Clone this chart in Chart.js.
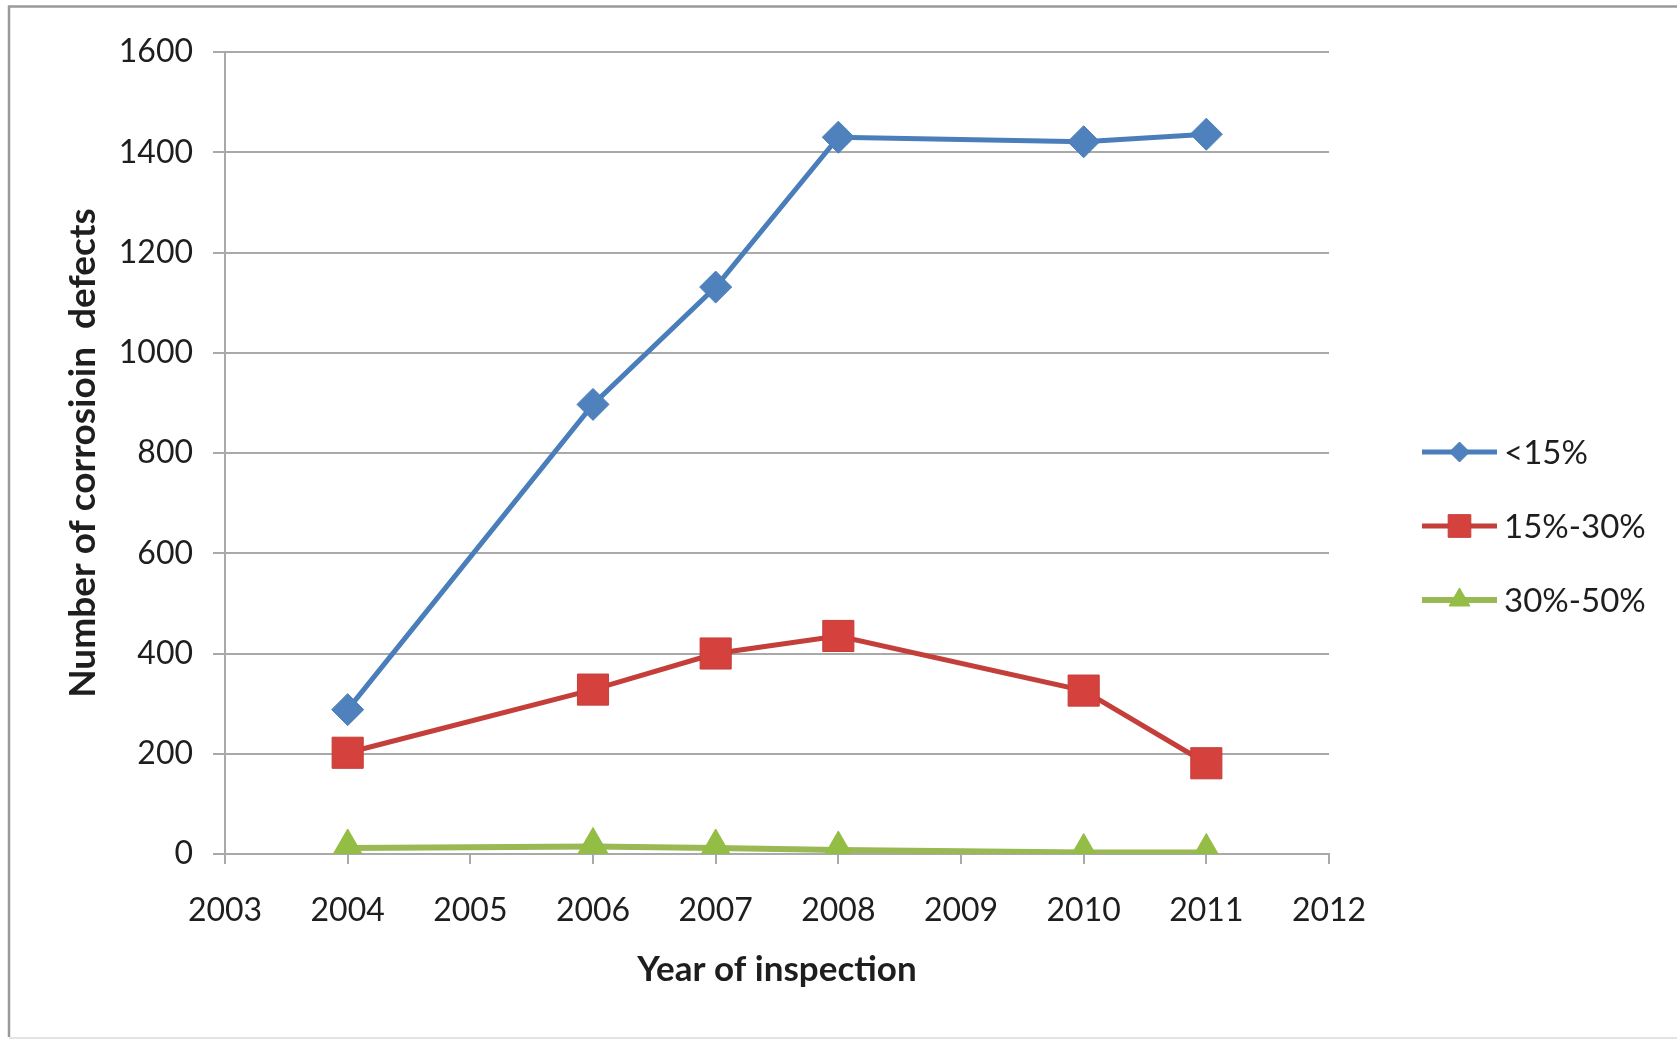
<!DOCTYPE html>
<html>
<head>
<meta charset="utf-8">
<title>Corrosion defects by year of inspection</title>
<script src="https://cdn.jsdelivr.net/npm/chart.js@4/dist/chart.umd.min.js"></script>
<style>
  html, body { margin: 0; padding: 0; background: #ffffff; }
  #wrap { width: 1677px; height: 1040px; }
</style>
</head>
<body>
<div id="wrap"><canvas id="chart" width="1677" height="1040"></canvas></div>
<script>
// Inspection years and defect counts per depth class
const years = [2004, 2006, 2007, 2008, 2010, 2011];
const below15 = [288, 897, 1131, 1430, 1421, 1436];
const from15to30 = [202, 328, 400, 435, 326, 181];
const from30to50 = [12, 15, 12, 8, 3, 3];

const seriesNames = ['<15%', '15%-30%', '30%-50%'];
const xTicks = [2003, 2004, 2005, 2006, 2007, 2008, 2009, 2010, 2011, 2012];
const yTicks = [0, 200, 400, 600, 800, 1000, 1200, 1400, 1600];

const FONT = 'Lato, "Open Sans", "DejaVu Sans", sans-serif';
const TEXT = '#1e1e1e';
const GRID = '#a9a9a9';

const pts = vals => years.map((yr, i) => ({ x: yr, y: vals[i] }));

// White sheet with the thin grey frame around the chart
const frame = {
  id: 'frame',
  beforeDraw(chart) {
    const c = chart.ctx;
    c.save();
    c.fillStyle = '#ffffff';
    c.fillRect(0, 0, chart.width, chart.height);
    c.strokeStyle = '#9a9a9a';
    c.lineWidth = 2.5;
    c.beginPath();
    c.moveTo(9, chart.height - 3);
    c.lineTo(9, 6.5);
    c.lineTo(chart.width, 6.5);
    c.stroke();
    c.strokeStyle = '#e4e4e4';
    c.lineWidth = 2;
    c.beginPath();
    c.moveTo(9, chart.height - 2);
    c.lineTo(chart.width, chart.height - 2);
    c.stroke();
    c.restore();
  }
};

// Key on the right: a short line with the series marker, then the name
const seriesKey = {
  id: 'seriesKey',
  afterDraw(chart) {
    const c = chart.ctx;
    const x0 = 1422, x1 = 1497, textX = 1504;
    const rows = [452, 526, 600];
    const markerR = [10, 16, 12];
    c.save();
    chart.data.datasets.forEach((ds, i) => {
      const y = rows[i];
      c.strokeStyle = ds.borderColor;
      c.lineWidth = ds.borderWidth;
      c.beginPath();
      c.moveTo(x0, y);
      c.lineTo(x1, y);
      c.stroke();
      c.fillStyle = ds.pointBackgroundColor;
      c.strokeStyle = ds.pointBorderColor;
      c.lineWidth = 1;
      Chart.helpers.drawPoint(c, { pointStyle: ds.pointStyle, radius: markerR[i], rotation: 0, borderWidth: 1 }, (x0 + x1) / 2, y);
      c.fillStyle = TEXT;
      c.font = '33px ' + FONT;
      c.textAlign = 'left';
      c.textBaseline = 'middle';
      c.fillText(ds.label, textX, y + 1);
    });
    c.restore();
  }
};

new Chart(document.getElementById('chart'), {
  type: 'line',
  data: {
    datasets: [
      {
        label: seriesNames[0],
        data: pts(below15),
        borderColor: '#4a7ebb',
        borderWidth: 5,
        pointStyle: 'rectRot',
        pointRadius: 16,
        pointBackgroundColor: '#4f81bd',
        pointBorderColor: '#4a7ebb',
        pointBorderWidth: 1
      },
      {
        label: seriesNames[1],
        data: pts(from15to30),
        borderColor: '#c43e3a',
        borderWidth: 5,
        pointStyle: 'rect',
        pointRadius: 22,
        pointBackgroundColor: '#d5413d',
        pointBorderColor: '#c43e3a',
        pointBorderWidth: 1
      },
      {
        label: seriesNames[2],
        data: pts(from30to50),
        borderColor: '#98b954',
        borderWidth: 6,
        pointStyle: 'triangle',
        pointRadius: 19,
        pointBackgroundColor: '#93bd45',
        pointBorderColor: '#93bd45',
        pointBorderWidth: 1
      }
    ]
  },
  options: {
    responsive: false,
    animation: false,
    devicePixelRatio: 1,
    layout: { padding: { left: 0, top: 52, right: 348, bottom: 0 } },
    plugins: {
      legend: { display: false },
      tooltip: { enabled: false }
    },
    elements: { line: { tension: 0 } },
    scales: {
      x: {
        type: 'linear',
        min: xTicks[0],
        max: xTicks[xTicks.length - 1],
        afterBuildTicks: s => { s.ticks = xTicks.map(v => ({ value: v })); },
        afterFit: s => { s.height = 186; },
        ticks: {
          callback: v => String(v),
          color: TEXT,
          font: { family: FONT, size: 32 },
          padding: 27,
          maxRotation: 0,
          autoSkip: false
        },
        grid: {
          drawOnChartArea: false,
          drawTicks: true,
          tickLength: 10,
          color: GRID,
          lineWidth: 2
        },
        border: { display: true, color: GRID, width: 2 },
        title: {
          display: true,
          text: 'Year of inspection',
          color: TEXT,
          font: { family: FONT, size: 35, weight: 'bold' },
          padding: 49
        }
      },
      y: {
        min: yTicks[0],
        max: yTicks[yTicks.length - 1],
        afterBuildTicks: s => { s.ticks = yTicks.map(v => ({ value: v })); },
        afterFit: s => { s.width = 225; },
        ticks: {
          callback: v => String(v),
          color: TEXT,
          font: { family: FONT, size: 32 },
          padding: 20
        },
        grid: {
          color: GRID,
          lineWidth: 2,
          drawTicks: true,
          tickLength: 12
        },
        border: { display: true, color: GRID, width: 2 },
        title: {
          display: true,
          text: 'Number of corrosioin  defects',
          color: TEXT,
          font: { family: FONT, size: 37, weight: 'bold' },
          padding: 61
        }
      }
    }
  },
  plugins: [frame, seriesKey]
});
</script>
</body>
</html>
